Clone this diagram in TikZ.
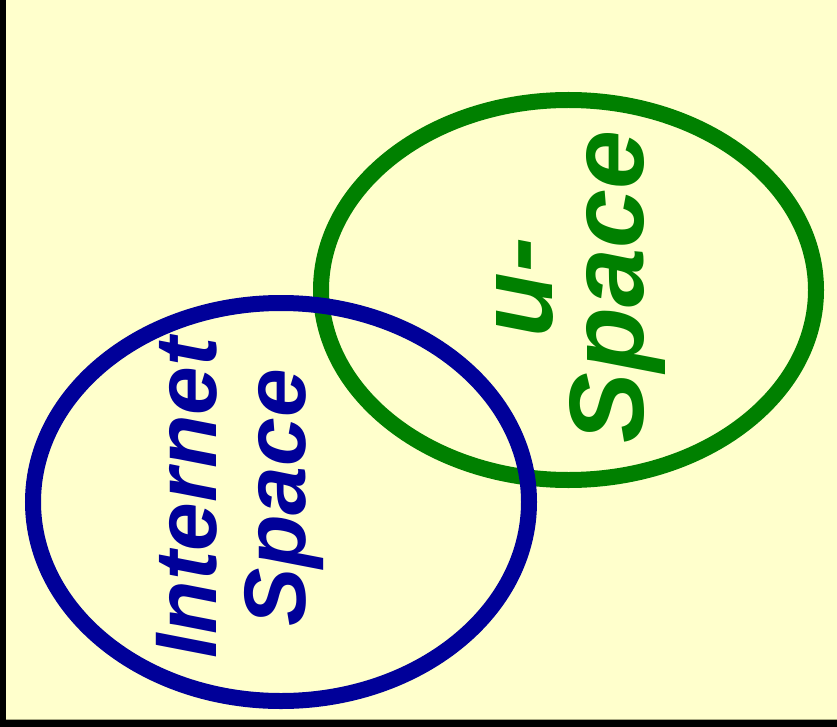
\documentclass[tikz,border=0pt]{standalone}
\usepackage{fontspec}
\setmainfont{Liberation Sans}
\definecolor{bgyellow}{HTML}{FFFFCC}
\definecolor{navy}{HTML}{000099}
\definecolor{dkgreen}{HTML}{008000}
\definecolor{edgegray}{HTML}{A8A880}
\tikzset{
  ring/.style={line width=16pt},
  vlabel/.style={rotate=90, anchor=center, inner sep=0pt, align=center,
                 font=\bfseries\itshape},
}
\begin{document}
\begin{tikzpicture}[x=1pt,y=-1pt]
\useasboundingbox (0,0) rectangle (837,727);
% frame
\fill[black] (0,0) rectangle (837,727);
\fill[bgyellow] (6,0) rectangle (837,719);
\draw[edgegray, line width=1pt] (6,719) -- (837,719);
% ellipses
\coordinate (ci) at (281,502);
\coordinate (cu) at (568.5,290);
\draw[ring, dkgreen] (cu) ellipse [x radius=247.5, y radius=190];
\draw[ring, navy] (ci) ellipse [x radius=248, y radius=199];
% labels
\node[vlabel, text=navy, font=\fontsize{87.5}{89}\selectfont\bfseries\itshape]
  (internet) at (240,498) {Internet\\Space};
\node[vlabel, text=dkgreen, font=\fontsize{106}{91}\selectfont\bfseries\itshape]
  (uspace) at (581,287) {u-\\Space};
\end{tikzpicture}
\end{document}
